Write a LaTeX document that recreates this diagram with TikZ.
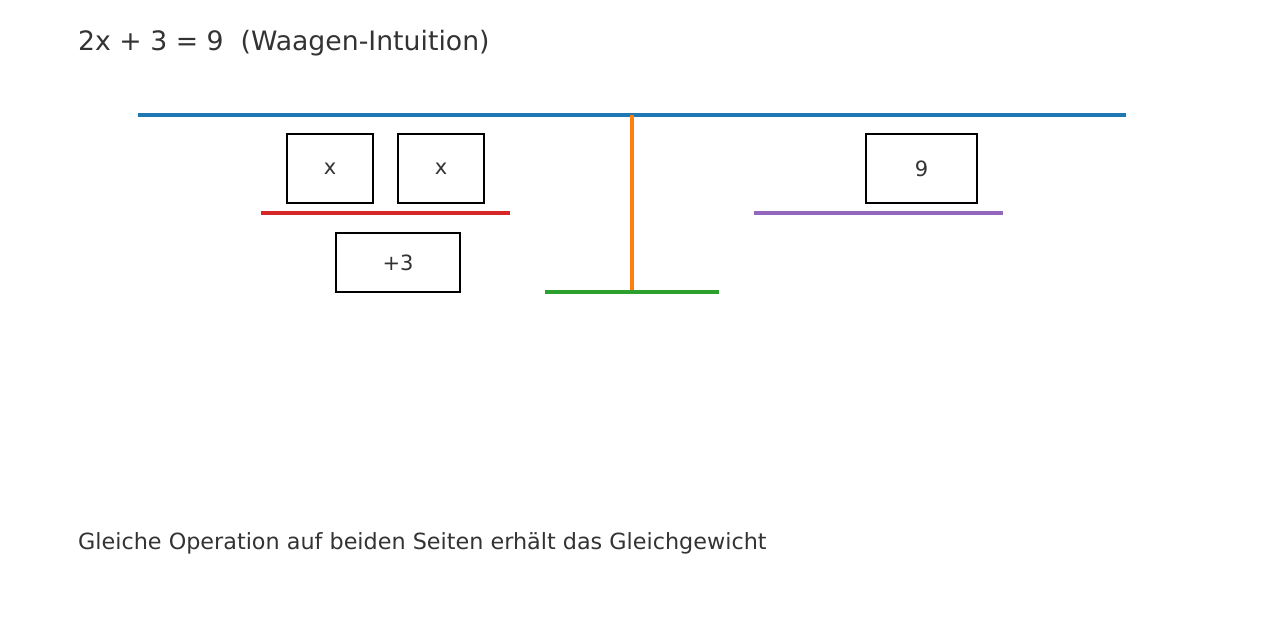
\documentclass[tikz,border=0pt]{standalone}
\usepackage{fontspec}
\setmainfont{DejaVu Sans}
\usepackage{tikz}
\usetikzlibrary{positioning}
\definecolor{BeamBlue}{HTML}{1F77B4}
\definecolor{PostOrange}{HTML}{FF7F0E}
\definecolor{BaseGreen}{HTML}{2CA02C}
\definecolor{PanRed}{HTML}{D62728}
\definecolor{PanPurple}{HTML}{9467BD}
\definecolor{TextGray}{HTML}{333333}
\tikzset{
  weight/.style={rectangle,draw=black,line width=1.8pt,text=TextGray,font=\fontsize{21}{24}\selectfont,inner sep=0pt},
  bar/.style={line width=3.2pt},
  caption/.style={anchor=base west,text=TextGray,inner sep=0pt},
}

\begin{document}
\begin{tikzpicture}[x=1pt,y=-1pt]
  \useasboundingbox (0,0) rectangle (1264,624);

  % Title and caption
  \node[caption,font=\fontsize{26.7}{30}\selectfont] (title) at (78,50) {2x + 3 = 9\ \ (Waagen-Intuition)};
  \node[caption,font=\fontsize{22.3}{26}\selectfont] (note) at (78,549.5) {Gleiche Operation auf beiden Seiten erhält das Gleichgewicht};

  % Scale frame
  \draw[bar,BeamBlue] (138,115) -- (1126,115);
  \draw[bar,PostOrange] (632,115) -- (632,292);
  \draw[bar,BaseGreen] (545,292) -- (719,292);

  % Pans
  \draw[bar,PanRed] (261,213) -- (510,213);
  \draw[bar,PanPurple] (754,213) -- (1003,213);

  % Left side
  \node[weight,minimum width=86pt,minimum height=69pt] (x1) at (330,168.5) {x};
  \node[weight,minimum width=86pt,minimum height=69pt] (x2) at (441,168.5) {x};
  \node[weight,minimum width=124pt,minimum height=59pt] (plus) at (398,262.5) {+3};

  % Right side
  \node[weight,minimum width=111pt,minimum height=69pt] (nine) at (921.5,168.5) {9};
\end{tikzpicture}
\end{document}
